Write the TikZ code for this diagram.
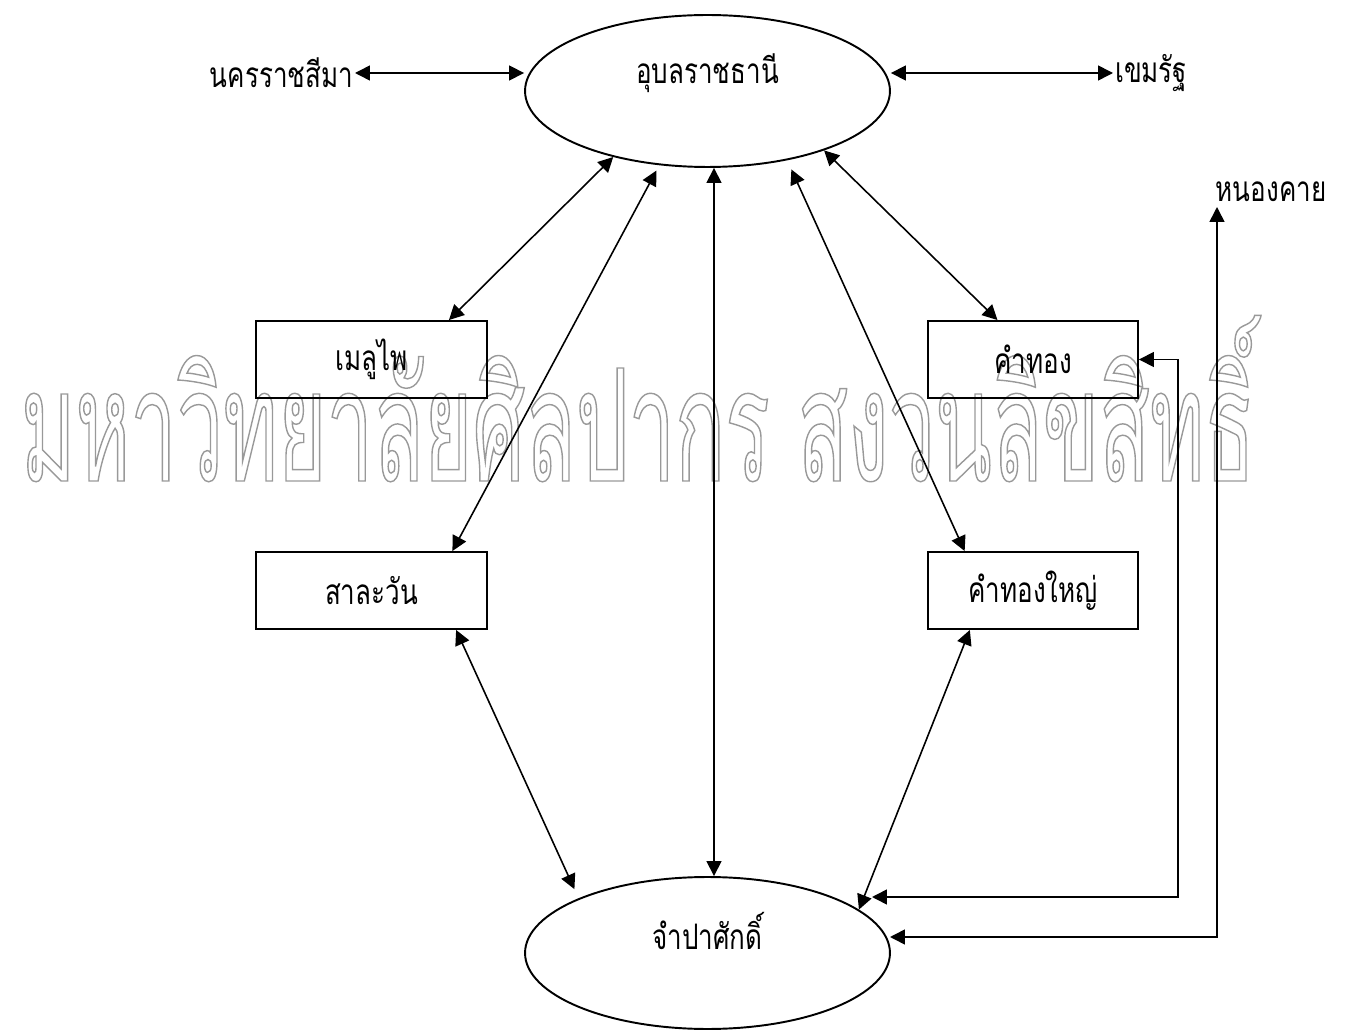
\documentclass[tikz,border=0pt]{standalone}
\usepackage{fontspec}
\usepackage{tikz}
\usetikzlibrary{shapes.geometric}
\usetikzlibrary{arrows.meta}
\newfontfamily\thaifont[Script=Thai,FakeStretch=0.74]{Loma}
\newfontfamily\markfont[Script=Thai,FakeStretch=0.53]{Loma}
\newcommand\outlined[1]{\special{pdf:literal direct 1 Tr 0.8 w}#1\special{pdf:literal direct 0 Tr}}

\begin{document}
\begin{tikzpicture}[x=0.02cm, y=-0.02cm,
    every node/.style={font=\thaifont\fontsize{20}{24}\selectfont},
    city/.style={draw, ellipse, line width=1.1pt, minimum width=7.3cm, minimum height=3.04cm, inner sep=0pt},
    district/.style={draw, rectangle, line width=1.1pt, minimum height=1.54cm, inner sep=0pt},
    place/.style={inner sep=1pt},
    link/.style={line width=0.9pt, {Triangle[length=8.5pt,width=8.5pt]}-{Triangle[length=8.5pt,width=8.5pt]}}]
    \useasboundingbox (0,0) rectangle (1350,1030);

    % watermark
    \node[text=black!40, inner sep=0pt, anchor=base, font=\markfont\fontsize{89}{100}\selectfont] (watermark) at (638,481)
        {\outlined{มหาวิทยาลัยศิลปากร สงวนลิขสิทธิ์}};

    % provinces
    \node[city, label={[name=ubontext, yshift=0.36cm]center:อุบลราชธานี}] (ubon) at (707.5,91) {};
    \node[city, label={[name=champatext, yshift=0.44cm]center:จำปาศักดิ์}] (champa) at (707.5,953) {};
    \node[place, anchor=east] (korat) at (355,73) {นครราชสีมา};
    \node[place, anchor=west] (khemmarat) at (1113,73) {เขมรัฐ};
    \node[place] (nongkhai) at (1271,192) {หนองคาย};
    \coordinate (nktip) at (1217,207);
    \coordinate (nkin) at (890,937);
    \coordinate (ktin) at (872,897);

    % districts
    \node[district, minimum width=4.62cm] (meluphai) at (371.5,359.5) {เมลูไพ};
    \node[district, minimum width=4.62cm] (salawan) at (371.5,590.5) {สาละวัน};
    \node[district, minimum width=4.2cm] (khamthong) at (1033,359.5) {คำทอง};
    \node[district, minimum width=4.2cm] (khamthongyai) at (1033,590.5) {คำทองใหญ่};

    % links
    \draw[link] (korat.east) -- (korat.east -| ubon.west);
    \draw[link] (ubon.east |- khemmarat.west) -- (khemmarat.west);
    \draw[link] (ubon.215) -- (meluphai.27);
    \draw[link, shorten <=0.12cm] (ubon.237) -- (salawan.26);
    \draw[link] ([xshift=0.13cm]ubon.south) -- ([xshift=0.13cm]champa.north);
    \draw[link, shorten <=0.2cm] (ubon.319) -- (khamthongyai.150);
    \draw[link] (ubon.333) -- (khamthong.132);
    \draw[link, shorten >=0.2cm] (salawan.335) -- (champa.157);
    \draw[link] (khamthongyai.212) -- (champa.16);
    \draw[link] (khamthong.east) -- ++(39,0) |- (ktin);
    \draw[link] (nktip) |- (nkin);
\end{tikzpicture}
\end{document}
